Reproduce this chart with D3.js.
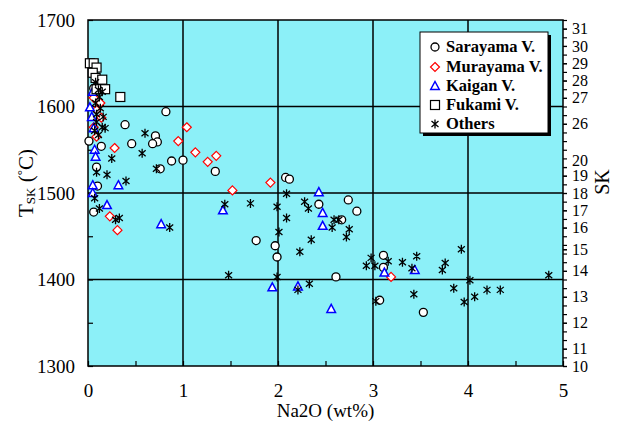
<!DOCTYPE html>
<html><head><meta charset="utf-8">
<script src="https://cdn.jsdelivr.net/npm/d3@7"></script>
<style>body{margin:0;background:#fff}svg{display:block}</style>
</head><body><svg id="c" width="618" height="440"></svg>
<script>
// ---- data: [Na2O wt%, Tsk °C] ----
const sarayama = [[0.82,1594],[0.39,1579],[0.46,1557],[0.71,1566],[0.73,1559],[0.68,1557],[0.88,1537],[1.0,1538],[0.76,1528],[1.34,1525],[2.08,1518],[2.12,1516],[2.43,1487],[2.74,1492],[2.83,1479],[2.67,1469],[1.77,1445],[1.97,1439],[1.99,1426],[2.61,1403],[3.11,1428],[3.11,1414],[3.07,1376],[3.53,1362],[0.01,1560],[0.14,1554],[0.09,1530],[0.10,1508],[0.06,1478],[0.06,1621]];
const murayama = [[1.04,1576],[0.95,1560],[1.13,1547],[1.26,1536],[1.35,1543],[1.52,1503],[1.92,1512],[3.19,1403],[0.28,1552],[0.23,1473],[0.31,1457],[0.06,1610],[0.13,1604],[0.09,1596],[0.14,1587],[0.06,1576],[0.09,1565]];
const kaigan = [[0.77,1464],[1.42,1480],[2.43,1501],[2.47,1477],[2.47,1462],[1.94,1391],[2.21,1392],[2.56,1366],[3.12,1408],[3.44,1411],[0.05,1509],[0.32,1509],[0.05,1500],[0.20,1486],[0.05,1617],[0.02,1599],[0.04,1588],[0.06,1575],[0.07,1550],[0.08,1542]];
const fukami = [[0.02,1650],[0.06,1650],[0.09,1645],[0.05,1639],[0.08,1633],[0.15,1631],[0.09,1620],[0.18,1620],[0.34,1611]];
const others = [[0.60,1569],[0.57,1546],[0.72,1528],[0.25,1540],[0.20,1521],[0.09,1524],[0.40,1514],[0.07,1494],[0.12,1482],[0.29,1469],[0.33,1471],[0.86,1460],[1.44,1487],[1.71,1488],[1.99,1484],[2.09,1499],[2.09,1471],[2.28,1490],[2.32,1482],[2.01,1455],[2.35,1446],[2.23,1432],[2.59,1469],[2.64,1469],[2.57,1460],[2.75,1458],[2.72,1449],[1.48,1405],[1.99,1403],[2.33,1395],[2.21,1388],[2.98,1425],[2.93,1416],[3.02,1416],[3.16,1421],[3.31,1420],[3.46,1427],[3.41,1413],[3.73,1411],[3.76,1419],[3.93,1435],[4.02,1399],[3.85,1390],[4.20,1388],[4.34,1388],[4.07,1380],[3.96,1374],[3.43,1383],[3.03,1375],[4.85,1405],[0.08,1628],[0.11,1619],[0.15,1617],[0.12,1611],[0.08,1604],[0.13,1598],[0.09,1591],[0.16,1588],[0.09,1582],[0.15,1576],[0.18,1575],[0.07,1572],[0.11,1567]];
const xTicks = [0,1,2,3,4,5];
const yTicks = [1300,1400,1500,1600,1700];
const skLabels = ["10","11","12","13","14","15","16","17","18","19","20","26","27","28","29","30","31"];
const skTemps = [1300,1320,1350,1380,1410,1435,1460,1480,1500,1520,1530,1580,1610,1630,1650,1670,1690];
const legendNames = ["Sarayama V.","Murayama V.","Kaigan V.","Fukami V.","Others"];

const FONT = "Liberation Serif";
const svg = d3.select("#c");
const L=88,R=563,T=20,B=366;
const x = d3.scaleLinear().domain([0,5]).range([L,R]);
const y = d3.scaleLinear().domain([1300,1700]).range([B,T]);

svg.append("rect").attr("x",L).attr("y",T).attr("width",R-L).attr("height",B-T).attr("fill","#8cf0f8");
// grid
const g = svg.append("g");
g.selectAll(".gx").data([1,2,3,4]).join("line").attr("x1",d=>x(d)).attr("x2",d=>x(d)).attr("y1",T).attr("y2",B).attr("stroke","#000").attr("stroke-width",1.5);
g.selectAll(".gy").data([1400,1500,1600]).join("line").attr("y1",d=>y(d)).attr("y2",d=>y(d)).attr("x1",L).attr("x2",R).attr("stroke","#000").attr("stroke-width",1.5);

// axes
const ax = svg.append("g").attr("transform",`translate(0,${B})`)
  .call(d3.axisBottom(x).tickValues(d3.range(0,5.01,0.5)).tickSize(-5).tickFormat(""));
const axl = svg.append("g").attr("transform",`translate(0,${B})`)
  .call(d3.axisBottom(x).tickValues(xTicks).tickSize(0).tickPadding(18).tickFormat(d3.format("d")));
const ay = svg.append("g").attr("transform",`translate(${L},0)`)
  .call(d3.axisLeft(y).tickValues(d3.range(1300,1701,50)).tickSize(-5).tickFormat(""));
const ayl = svg.append("g").attr("transform",`translate(${L},0)`)
  .call(d3.axisLeft(y).tickValues(yTicks).tickSize(0).tickPadding(13).tickFormat(d3.format("d")));
const minorR = d3.range(1300,1701,10).concat([1435]);
const ar = svg.append("g").attr("transform",`translate(${R},0)`)
  .call(d3.axisRight(y).tickValues(minorR).tickSize(4).tickFormat(""));
const arl = svg.append("g").attr("transform",`translate(${R},0)`)
  .call(d3.axisRight(y).tickValues(skTemps).tickSize(4).tickPadding(5).tickFormat((d,i)=>skLabels[i]));
[ax,axl,ay,ayl,ar,arl].forEach(a=>{a.attr("font-family",FONT);a.select(".domain").remove();a.selectAll("line").attr("stroke","#000").attr("stroke-width",1.2);a.selectAll("text").attr("font-family",FONT).attr("font-size","19px").attr("fill","#000");});
arl.selectAll("text").attr("font-size","16px");
// SK 20 label sits slightly above its tick in the reference
arl.selectAll(".tick").filter(d=>d===1530).select("text").attr("dy","-0.08em");
// frame
svg.append("rect").attr("x",L).attr("y",T).attr("width",R-L).attr("height",B-T).attr("fill","none").attr("stroke","#000").attr("stroke-width",1.5);

// titles
svg.append("text").attr("font-family",FONT).attr("x",(L+R)/2).attr("y",417).attr("text-anchor","middle").attr("font-size","19px").text("Na2O (wt%)");
const lt = svg.append("text").attr("font-family",FONT).attr("transform","translate(33,183) rotate(-90)").attr("text-anchor","middle").attr("font-size","21px");
lt.append("tspan").text("T");
lt.append("tspan").attr("font-size","13px").attr("dy",2).text("SK");
lt.append("tspan").attr("dy",-2).text(" (");
lt.append("tspan").attr("font-size","13px").attr("dy",-7).text("°");
lt.append("tspan").attr("dy",7).text("C)");
svg.append("text").attr("font-family",FONT).attr("transform","translate(609,182) rotate(-90)").attr("text-anchor","middle").attr("font-size","20px").text("SK");

// markers
const sym = {
  circle: s=>s.append("circle").attr("r",4).attr("fill","#fff").attr("stroke","#000").attr("stroke-width",1.3),
  diamond: s=>s.append("path").attr("d","M0,-4.5L4.5,0L0,4.5L-4.5,0Z").attr("fill","#fff").attr("stroke","#f00").attr("stroke-width",1.2),
  triangle: s=>s.append("path").attr("d","M0,-4.5L4.3,3.5L-4.3,3.5Z").attr("fill","#fff").attr("stroke","#00f").attr("stroke-width",1.5),
  square: s=>s.append("rect").attr("x",-4.5).attr("y",-4.5).attr("width",9).attr("height",9).attr("fill","#fff").attr("stroke","#000").attr("stroke-width",1.2),
  star: s=>s.append("path").attr("d","M0,-4.5V4.5M-3.5,-3L3.5,3M-3.5,3L3.5,-3").attr("fill","none").attr("stroke","#000").attr("stroke-width",1.3)
};
const series = [[sarayama,"circle"],[murayama,"diamond"],[kaigan,"triangle"],[fukami,"square"],[others,"star"]];
series.forEach(([data,kind])=>{
  const sel = svg.append("g").selectAll("g").data(data).join("g").attr("transform",d=>`translate(${x(d[0])},${y(d[1])})`);
  sym[kind](sel);
});

// legend
const lg = svg.append("g");
lg.append("rect").attr("x",423).attr("y",35).attr("width",128).attr("height",101).attr("fill","#000");
lg.append("rect").attr("x",420).attr("y",32).attr("width",128).attr("height",101).attr("fill","#fff").attr("stroke","#000").attr("stroke-width",1);
const rowsY=[47,67,86,105,124];
series.forEach(([data,kind],i)=>{
  const r = lg.append("g").attr("transform",`translate(435,${rowsY[i]})`);
  sym[kind](r);
  lg.append("text").attr("font-family",FONT).attr("x",446).attr("y",rowsY[i]+5).attr("font-size","16.5px").attr("font-weight","bold").text(legendNames[i]);
});
</script></body></html>
